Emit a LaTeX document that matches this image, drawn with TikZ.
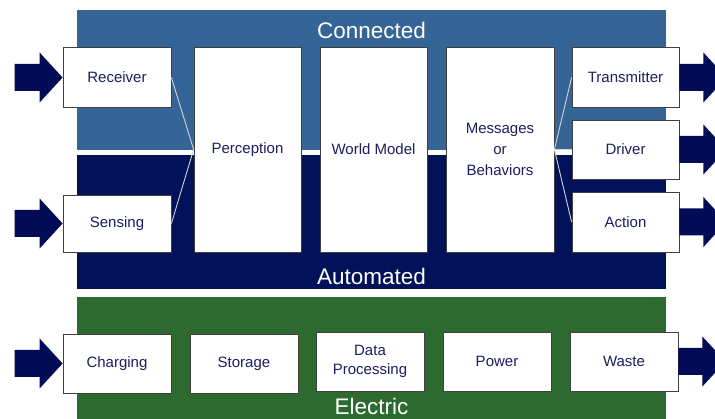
\documentclass[tikz,border=0pt]{standalone}
\usepackage{fontspec}
\setmainfont{Liberation Sans}
\usetikzlibrary{calc,shadows}
\definecolor{connc}{HTML}{356496}
\definecolor{autoc}{HTML}{02125A}
\definecolor{elecc}{HTML}{2D6A2F}
\definecolor{arrc}{HTML}{020B55}
\definecolor{txtc}{HTML}{1A1F5E}
\definecolor{linec}{HTML}{D4D4D4}
\tikzset{
  stagebox/.style={draw=black!75, line width=0.8pt, fill=white, text=txtc,
    font=\fontsize{15}{21}\selectfont, align=center, inner sep=0pt,
    drop shadow={shadow xshift=1pt, shadow yshift=-1pt, opacity=0.35}},
  bandtitle/.style={text=white, font=\fontsize{22.5}{26}\selectfont, inner sep=0pt},
  link/.style={draw=linec, line width=0.9pt},
  bigarrow/.style={fill=arrc, draw=none}
}
\newcommand{\inarrow}[1]{%
  \fill[bigarrow] (#1.west) -- ++(-23,-25) -- ++(0,11.5) -- ++(-25,0) -- ++(0,27) -- ++(25,0) -- ++(0,11.5) -- cycle;}
\newcommand{\outarrow}[1]{%
  \fill[bigarrow] ($(#1.east)+(0,-13.5)$) -- ++(24,0) -- ++(0,-11.5) -- ++(23,25) -- ++(-23,25) -- ++(0,-11.5) -- ++(-24,0) -- cycle;}
\begin{document}
\begin{tikzpicture}[x=1pt,y=-1pt]
\useasboundingbox (0,0) rectangle (715,419);
% bands
\fill[connc] (77,10) rectangle (666,150.5);
\fill[autoc] (77,155.5) rectangle (666,289.5);
\fill[elecc] (77,297) rectangle (666,425);
\node[bandtitle] (tconn) at (371.5,30) {Connected};
\node[bandtitle] (tauto) at (371.5,276.5) {Automated};
\node[bandtitle] (telec) at (371.5,406.5) {Electric};
% boxes
\node[stagebox, minimum width=108pt, minimum height=60pt] (rec) at (117,77.5) {Receiver};
\node[stagebox, minimum width=108pt, minimum height=57pt] (sen) at (117,223.5) {Sensing};
\node[stagebox, minimum width=107pt, minimum height=205pt] (per) at (247.5,149.5) {Perception};
\node[stagebox, minimum width=107pt, minimum height=205pt] (wm) at (373.5,149.5) {World Model};
\node[stagebox, minimum width=108pt, minimum height=205pt] (msg) at (500,149.5) {Messages\\[-0.2pt]or\\[-0.2pt]Behaviors};
\node[stagebox, minimum width=107pt, minimum height=60pt] (tra) at (625.5,77.5) {Transmitter};
\node[stagebox, minimum width=107pt, minimum height=59pt] (drv) at (625.5,149.5) {Driver};
\node[stagebox, minimum width=107pt, minimum height=60pt] (act) at (625.5,222) {Action};
\node[stagebox, minimum width=108pt, minimum height=59pt] (chg) at (117,363.5) {Charging};
\node[stagebox, minimum width=108pt, minimum height=59pt] (sto) at (244,363.5) {Storage};
\node[stagebox, minimum width=108pt, minimum height=59pt, font=\fontsize{15}{19.5}\selectfont] (dat) at (370,361.5) {Data\\Processing};
\node[stagebox, minimum width=108pt, minimum height=59pt] (pow) at (497,361.5) {Power};
\node[stagebox, minimum width=108pt, minimum height=59pt] (was) at (624,361.5) {Waste};
% links
\draw[link] (rec.east) -- (per.west);
\draw[link] (sen.east) -- (per.west);
\draw[link] (msg.east) -- (tra.west);
\draw[link] (msg.east) -- (drv.west);
\draw[link] (msg.east) -- (act.west);
% arrows
\inarrow{rec}
\inarrow{sen}
\inarrow{chg}
\outarrow{tra}
\outarrow{drv}
\outarrow{act}
\outarrow{was}
\end{tikzpicture}
\end{document}
